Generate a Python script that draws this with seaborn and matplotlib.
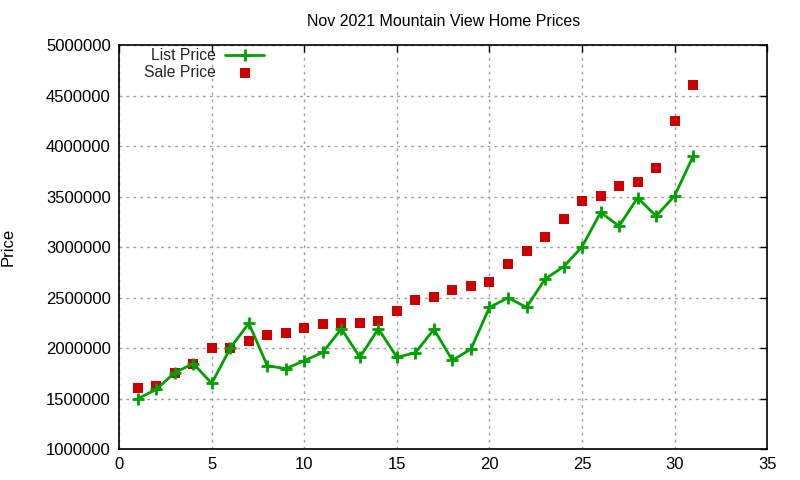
import numpy as np
import pandas as pd
import matplotlib
matplotlib.use("Agg")
import matplotlib.pyplot as plt
import seaborn as sns

days = list(range(1, 32))
list_price = [1498000, 1590000, 1756000, 1845000, 1650000, 2000000, 2244000, 1825000,
              1795000, 1875000, 1957000, 2191000, 1908000, 2191000, 1908000, 1954000,
              2185000, 1878000, 1990000, 2403000, 2498000, 2403000, 2683000, 2805000,
              3003000, 3343000, 3208000, 3488000, 3307000, 3508000, 3900000]
sale_price = [1607000, 1624000, 1756000, 1845000, 2000000, 2000000, 2072000, 2132000,
              2152000, 2201000, 2241000, 2250000, 2250000, 2270000, 2369000, 2478000,
              2508000, 2577000, 2617000, 2656000, 2835000, 2963000, 3102000, 3280000,
              3458000, 3508000, 3607000, 3644000, 3785000, 4250000, 4607000]
x_ticks = [0, 5, 10, 15, 20, 25, 30, 35]
y_ticks = [1000000, 1500000, 2000000, 2500000, 3000000, 3500000, 4000000, 4500000, 5000000]

sns.set_theme(style="white")
plt.rcParams['font.family'] = ['Liberation Sans', 'DejaVu Sans']

df = pd.DataFrame({"day": days, "List Price": list_price, "Sale Price": sale_price})

fig = plt.figure(figsize=(8, 4.8), dpi=100)
ax = fig.add_axes([0.149, 0.0646, 0.81, 0.8414])

sns.lineplot(data=df, x="day", y="List Price", ax=ax, color="#00a000", linewidth=2,
             marker="+", markersize=8.5, markeredgewidth=2, markeredgecolor="#00a000",
             label="List Price")
sns.scatterplot(data=df, x="day", y="Sale Price", ax=ax, color="#cc0000", marker="s",
                s=45, linewidth=0, label="Sale Price")

ax.set_xlim(0, 35)
ax.set_ylim(1000000, 5000000)
ax.set_xticks(x_ticks)
ax.set_yticks(y_ticks)
ax.set_xticklabels([str(t) for t in x_ticks])
ax.set_yticklabels([str(t) for t in y_ticks])
ax.tick_params(direction="in", length=5, width=1, top=True, right=True,
               labelsize=12, colors="black", pad=6)
for s in ax.spines.values():
    s.set_color("black")
    s.set_linewidth(1.2)
ax.grid(True, color="#a0a0a0", linestyle=(0, (2, 3)), linewidth=1)
ax.set_xlabel("")
ax.set_ylabel("Price", fontsize=12, color="black", labelpad=22)
ax.set_title("Nov 2021 Mountain View Home Prices", fontsize=11.5, color="black", pad=14)

leg = ax.legend(loc="upper left", bbox_to_anchor=(0.028, 1.008), frameon=False,
                markerfirst=False, fontsize=11.3, handlelength=2.5, labelspacing=0.12,
                handletextpad=0.6, borderaxespad=0)

fig.savefig("out.png", dpi=100)
